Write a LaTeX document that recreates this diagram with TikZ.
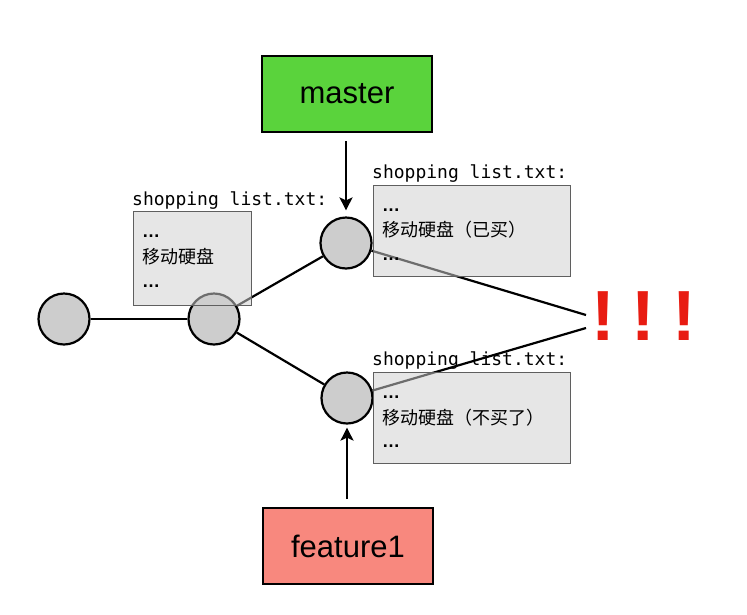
\documentclass[tikz,border=0pt]{standalone}
\usepackage{fontspec}
\setmainfont{Liberation Sans}
\newfontfamily\cjkf{Noto Sans CJK SC}
\newfontfamily\monof{DejaVu Sans Mono}
\usetikzlibrary{arrows.meta}
\definecolor{mgreen}{RGB}{90,211,60}
\definecolor{fred}{RGB}{248,136,126}
\definecolor{cgray}{RGB}{205,205,205}
\definecolor{bgray}{RGB}{207,207,207}
\definecolor{bline}{RGB}{95,95,95}
\definecolor{exred}{RGB}{232,28,18}
\tikzset{
  branch/.style={draw=black, line width=2pt, minimum width=170, minimum height=76, inner sep=0, font=\fontsize{31}{36}\selectfont},
  commit/.style={circle, draw=black, line width=2.2pt, fill=cgray, minimum size=51, inner sep=0},
  filebox/.style={draw=bline, line width=1.2pt, fill=bgray, fill opacity=0.53, anchor=north west, inner sep=0},
  flabel/.style={anchor=base west, inner sep=0, font=\monof\fontsize{18}{20}\selectfont},
  fline/.style={anchor=base west, inner sep=0, font=\cjkf\fontsize{18}{20}\selectfont},
  dots/.style={anchor=base west, inner sep=0, font=\bfseries\fontsize{18}{20}\selectfont},
  link/.style={line width=2.2pt},
  arr/.style={line width=2pt, -{Stealth[length=13pt,width=13pt,inset=3pt]}},
  bang/.style={anchor=base, text=exred, inner sep=0, font=\bfseries\fontsize{71}{80}\selectfont}
}
\begin{document}
\begin{tikzpicture}[x=1pt,y=-1pt]
\useasboundingbox (0,0) rectangle (747,614);
% branches
\node[branch, fill=mgreen] (master) at (347,94) {master};
\node[branch, fill=fred] (feature) at (348,546) {feature1};
% commits
\node[commit] (c0) at (64,319) {};
\node[commit] (c1) at (214,319) {};
\node[commit] (c2) at (346,243) {};
\node[commit] (c3) at (347,398) {};
\coordinate (m1) at (586,315);
\coordinate (m2) at (586,328);
% links
\draw[link] (c0) -- (c1);
\draw[link] (c1) -- (c2);
\draw[link] (c1) -- (c3);
\draw[link] (c2) -- (m1);
\draw[link] (c3) -- (m2);
% arrows
\draw[arr, shorten <=8pt, shorten >=6pt] (master.south -| c2) -- (c2.north);
\draw[arr, shorten <=8pt, shorten >=3pt] (feature.north -| c3) -- (c3.south);
% file boxes
\node[filebox, minimum width=118, minimum height=94] (bL) at (133,211) {};
\node[filebox, minimum width=197, minimum height=91] (bT) at (373,185) {};
\node[filebox, minimum width=197, minimum height=91] (bB) at (373,372) {};
% labels
\node[flabel] (lL) at (132,205) {shopping list.txt:};
\node[flabel] (lT) at (372,178) {shopping list.txt:};
\node[flabel] (lB) at (372,365) {shopping list.txt:};
% left box text
\node[dots] (tL1) at (142,237) {…};
\node[fline] (tL2) at (142,263) {移动硬盘};
\node[dots] (tL3) at (142,287) {…};
% top box text
\node[dots] (tT1) at (382,211) {…};
\node[fline] (tT2) at (382,236) {移动硬盘（已买）};
\node[dots] (tT3) at (382,260) {…};
% bottom box text
\node[dots] (tB1) at (382,398) {…};
\node[fline] (tB2) at (382,424) {移动硬盘（不买了）};
\node[dots] (tB3) at (382,447) {…};
% exclamation marks
\node[bang] (e1) at (603,340) {!};
\node[bang] (e2) at (643,340) {!};
\node[bang] (e3) at (684,340) {!};
\end{tikzpicture}
\end{document}
